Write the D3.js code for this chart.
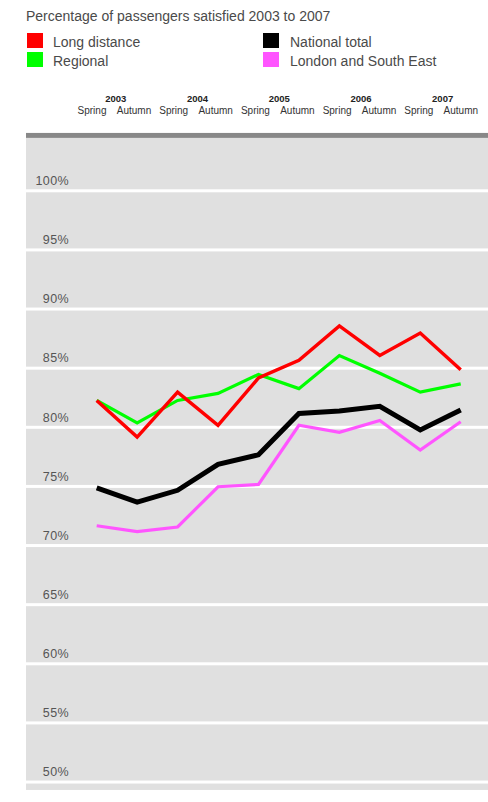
<!DOCTYPE html>
<html>
<head>
<meta charset="utf-8">
<script src="https://cdn.jsdelivr.net/npm/d3@7"></script>
<style>
  html, body { margin: 0; padding: 0; background: #fff; }
  svg { display: block; font-family: "Liberation Sans", Arial, sans-serif; }
</style>
</head>
<body>
<svg id="chart" width="488" height="802"></svg>
<script>
// ---- data ----
const title = "Percentage of passengers satisfied 2003 to 2007";
const years = ["2003", "2004", "2005", "2006", "2007"];
const seasons = ["Spring", "Autumn"];
const periods = years.flatMap(y => seasons.map(s => y + " " + s));
const longDistance = [81.4, 78.3, 82.1, 79.3, 83.3, 84.8, 87.7, 85.2, 87.1, 84.0];
const regional     = [81.4, 79.5, 81.4, 82.0, 83.6, 82.4, 85.2, 83.7, 82.1, 82.8];
const national     = [74.0, 72.8, 73.8, 76.0, 76.8, 80.3, 80.5, 80.9, 78.9, 80.6];
const londonSE     = [70.8, 70.3, 70.7, 74.1, 74.3, 79.3, 78.7, 79.7, 77.2, 79.6];
const yTicks = [100, 95, 90, 85, 80, 75, 70, 65, 60, 55, 50];
const seriesNames = ["Long distance", "Regional", "National total", "London and South East"];
const seriesColors = ["#ff0000", "#00ff00", "#000000", "#ff55ff"];

// ---- layout ----
const svg = d3.select("#chart");
const x = d3.scalePoint().domain(periods).range([96.7, 460.7]);
const y = d3.scaleLinear().domain([50, 100]).range([771.75, 180.5]);
const header = d3.scaleBand().domain(years).range([75, 483.5]);

// title
svg.append("text").attr("x", 26).attr("y", 21)
  .attr("font-size", 14).attr("fill", "#4a4a4a").text(title);

// legend
const legendPos = [
  {x: 27, y: 33, tx: 53},
  {x: 27, y: 52, tx: 53},
  {x: 263, y: 33, tx: 290},
  {x: 263, y: 52, tx: 290}
];
seriesNames.forEach((n, i) => {
  const p = legendPos[i];
  svg.append("rect").attr("x", p.x).attr("y", p.y).attr("width", 16).attr("height", 15)
    .attr("fill", seriesColors[i]);
  svg.append("text").attr("x", p.tx).attr("y", p.y + 13.5)
    .attr("font-size", 14).attr("fill", "#4a4a4a").text(n);
});

// header (years + seasons)
const hg = svg.append("g");
years.forEach(yr => {
  const b = header(yr);
  hg.append("text").attr("x", b + header.bandwidth() / 2).attr("y", 101.5)
    .attr("text-anchor", "middle").attr("font-size", 9.5).attr("font-weight", "bold")
    .attr("fill", "#222").text(yr);
  hg.append("text").attr("x", b + 17).attr("y", 113.5)
    .attr("text-anchor", "middle").attr("font-size", 10).attr("fill", "#333").text(seasons[0]);
  hg.append("text").attr("x", b + 59).attr("y", 113.5)
    .attr("text-anchor", "middle").attr("font-size", 10).attr("fill", "#333").text(seasons[1]);
});

// panel
const panelTop = y(103.6), panelBottom = y(48.46);
svg.append("rect").attr("x", 26).attr("y", panelTop - 5).attr("width", 462).attr("height", 5)
  .attr("fill", "#888");
svg.append("rect").attr("x", 26).attr("y", panelTop).attr("width", 462)
  .attr("height", panelBottom - panelTop).attr("fill", "#e0e0e0");

// white separators & labels
const gridOffset = 10.3;
svg.append("g").selectAll("rect").data(yTicks).join("rect")
  .attr("x", 26).attr("width", 462)
  .attr("y", d => y(d) + gridOffset - 1.5).attr("height", 3)
  .attr("fill", "#ffffff");
svg.append("g").selectAll("text").data(yTicks).join("text")
  .attr("x", 69).attr("y", d => y(d) + 4.5)
  .attr("text-anchor", "end").attr("font-size", 12.5).attr("fill", "#555")
  .attr("letter-spacing", 0.4)
  .text(d => d + "%");

// lines
const line = d3.line().x((d, i) => x(periods[i])).y(d => y(d));
const drawOrder = [
  {data: regional, color: seriesColors[1], w: 3.2},
  {data: longDistance, color: seriesColors[0], w: 3.5},
  {data: londonSE, color: seriesColors[3], w: 3.2},
  {data: national, color: seriesColors[2], w: 5}
];
drawOrder.forEach(s => {
  svg.append("path").datum(s.data).attr("d", line)
    .attr("fill", "none").attr("stroke", s.color).attr("stroke-width", s.w)
    .attr("stroke-linejoin", "miter");
});
</script>
</body>
</html>
